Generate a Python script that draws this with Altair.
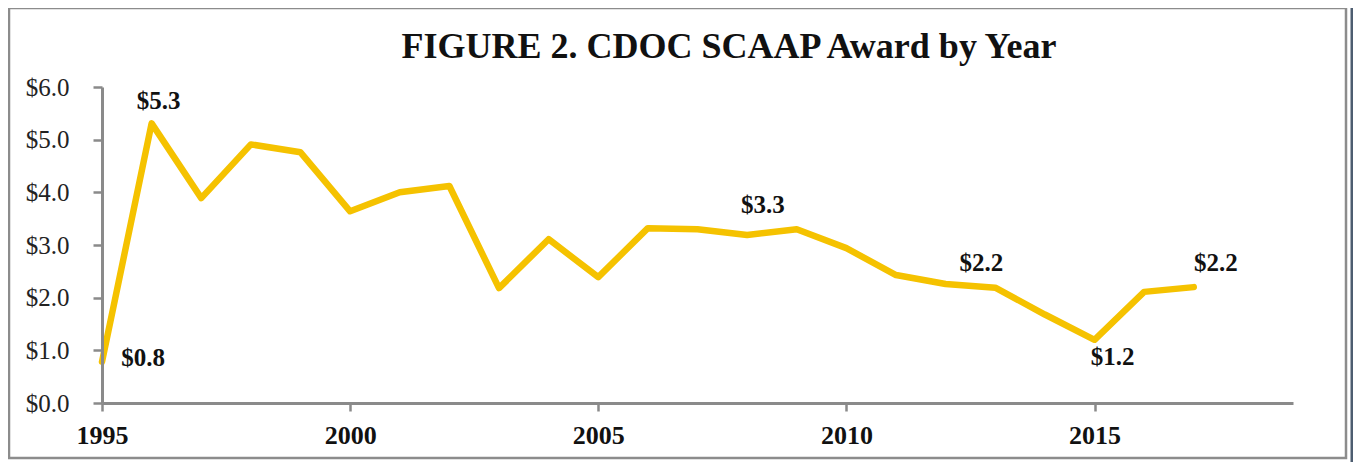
import altair as alt
import pandas as pd

years = list(range(1995, 2018))
awards = [0.78, 5.31, 3.89, 4.91, 4.76, 3.64, 4.0, 4.12, 2.18, 3.11, 2.39, 3.32,
          3.30, 3.19, 3.30, 2.94, 2.43, 2.26, 2.19, 1.68, 1.20, 2.11, 2.20]
label_years = [1995, 1996, 2009, 2013, 2015, 2017]
label_texts = ["$0.8", "$5.3", "$3.3", "$2.2", "$1.2", "$2.2"]
x_ticks = [1995, 2000, 2005, 2010, 2015]
title_text = "FIGURE 2. CDOC SCAAP Award by Year"

df = pd.DataFrame({"year": years, "award": awards})
lab = pd.DataFrame({"year": label_years, "text": label_texts})
lab["award"] = [awards[years.index(y)] for y in label_years]

SERIF = "Liberation Serif"
W, H = 1191, 316

x = alt.X("year:Q", scale=alt.Scale(domain=[1995, 2019], nice=False, zero=False),
          axis=alt.Axis(values=x_ticks, format="d", title=None, grid=False,
                        labelFont=SERIF, labelFontWeight="bold", labelFontSize=26,
                        labelColor="#111", labelPadding=11, tickSize=8,
                        tickColor="#8a8a8a", tickWidth=2.5, domainColor="#8a8a8a",
                        domainWidth=3, labelFlush=False, zindex=1))
y = alt.Y("award:Q", scale=alt.Scale(domain=[0, 6], nice=False),
          axis=alt.Axis(values=[0, 1, 2, 3, 4, 5, 6], format="$.1f", title=None,
                        grid=False, labelFont=SERIF, labelFontSize=25,
                        labelColor="#222", labelPadding=24, tickSize=9,
                        tickColor="#8a8a8a", tickWidth=2.5, domainColor="#8a8a8a",
                        domainWidth=3, zindex=1))

one = pd.DataFrame({"a": [0]})
border = alt.Chart(one).mark_rect(
    fillOpacity=0, stroke="#8c8c8c", strokeWidth=2.5
).encode(x=alt.value(-93), x2=alt.value(1244), y=alt.value(-79), y2=alt.value(371))
edge = alt.Chart(one).mark_rule(color="#4d5d70", strokeWidth=3).encode(
    x=alt.value(1250), y=alt.value(-79), y2=alt.value(375))

title = alt.Chart(one).mark_text(
    font=SERIF, fontWeight="bold", fontSize=36, color="#111",
    align="center", baseline="middle"
).encode(x=alt.value(627), y=alt.value(-40), text=alt.value(title_text))

line = alt.Chart(df).mark_line(color="#F5C200", strokeWidth=6.5,
                               strokeCap="round", strokeJoin="round").encode(x=x, y=y)

offsets = {1995: (41, -4), 1996: (7, -22), 2009: (-34, -24),
           2013: (-14, -25), 2015: (18, 17), 2017: (22, -24)}
texts = []
for yr in label_years:
    dx, dy = offsets[yr]
    texts.append(
        alt.Chart(lab[lab.year == yr]).mark_text(
            font=SERIF, fontWeight="bold", fontSize=25, color="#111",
            dx=dx, dy=dy, align="center", baseline="middle"
        ).encode(x=alt.X("year:Q"), y=alt.Y("award:Q"), text="text:N")
    )

chart = alt.layer(border, edge, title, line, *texts).properties(
    width=W, height=H,
    background="white",
    autosize=alt.AutoSizeParams(type="none"),
    padding={"left": 94, "top": 79, "right": 60, "bottom": 59},
).configure_view(stroke="transparent", strokeWidth=0)

chart.save("out.html", embed_options={"renderer": "svg", "actions": False})
